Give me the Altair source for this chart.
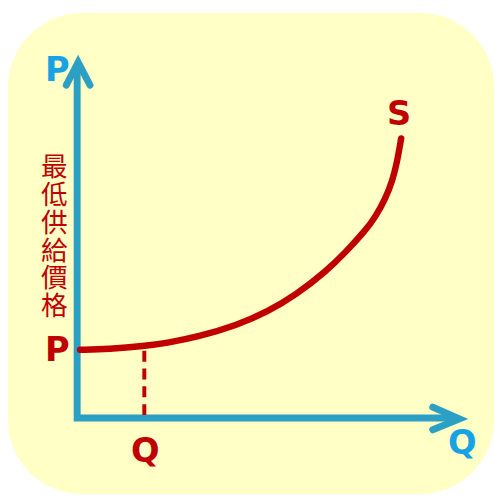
import altair as alt
import pandas as pd

# ---- data (page-pixel coordinates) ----
# supply curve S
curve_x = [81, 110, 146, 170, 200, 240, 270, 300, 330, 350, 370, 380, 390, 397, 402, 406]
curve_y = [351, 350.3, 347.3, 343.8, 338, 326, 313, 295, 271.6, 252, 230, 216.5, 198, 180.5, 160.5, 137]

# axes polyline (vertical axis down to origin, then horizontal axis)
axis_x = [78, 78, 462]
axis_y = [62, 420, 420]

# arrowheads (chevrons)
arrow_group = ["P", "P", "P", "Q", "Q", "Q"]
arrow_x = [67, 79, 91, 438, 465, 438]
arrow_y = [83, 60, 83, 409, 421, 432]

# dashed guide at the minimum quantity
guide_x = [146]
guide_y1 = [352]
guide_y2 = [418]

# labels
label_text = ["P", "Q", "S", "P", "Q"]
label_x = [58, 468, 404, 58, 147]
label_y = [69, 446, 113, 352, 455]
label_color = ["#17A2E4", "#17A2E4", "#C00000", "#C00000", "#C00000"]

vertical_label = ["最", "低", "供", "給", "價", "格"]
vertical_label_x = [55]
vertical_label_y = [167]

RED = "#C00000"
AXIS = "#2CA0C4"

xs = alt.Scale(domain=[8, 500], nice=False, zero=False)
ys = alt.Scale(domain=[10, 497], nice=False, zero=False, reverse=True)

curve_df = pd.DataFrame({"x": curve_x, "y": curve_y, "i": range(len(curve_x))})
axis_df = pd.DataFrame({"x": axis_x, "y": axis_y, "i": range(len(axis_x))})
arrow_df = pd.DataFrame({"g": arrow_group, "x": arrow_x, "y": arrow_y, "i": range(len(arrow_x))})
guide_df = pd.DataFrame({"x": guide_x, "y": guide_y1, "y2": guide_y2})
label_df = pd.DataFrame({"t": label_text, "x": label_x, "y": label_y, "c": label_color})
vlabel_df = pd.DataFrame({"t": ["\n".join(vertical_label)], "x": vertical_label_x, "y": vertical_label_y})

X = lambda f="x": alt.X(f"{f}:Q", scale=xs, axis=None)
Y = lambda f="y": alt.Y(f"{f}:Q", scale=ys, axis=None)

axis_line = alt.Chart(axis_df).mark_line(
    color=AXIS, strokeWidth=7, strokeCap="butt", strokeJoin="miter"
).encode(x=X(), y=Y(), order="i:Q")

arrows = alt.Chart(arrow_df).mark_line(
    color=AXIS, strokeWidth=7, strokeCap="round", strokeJoin="miter"
).encode(x=X(), y=Y(), detail="g:N", order="i:Q")

guide = alt.Chart(guide_df).mark_rule(
    color=RED, strokeWidth=4, strokeDash=[11, 7]
).encode(x=X(), y=Y(), y2="y2:Q")

curve = alt.Chart(curve_df).mark_line(
    color=RED, strokeWidth=6.5, strokeCap="round", interpolate="basis"
).encode(x=X(), y=Y(), order="i:Q")

labels = alt.Chart(label_df).mark_text(
    font="DejaVu Sans", fontSize=34, fontWeight="bold", align="center", baseline="middle"
).encode(x=X(), y=Y(), text="t:N", color=alt.Color("c:N", scale=None))

vlabel = alt.Chart(vlabel_df).mark_text(
    font="Noto Sans CJK TC", fontSize=27, lineHeight=28.2, lineBreak="\n",
    align="center", baseline="middle", color=RED
).encode(x=X(), y=Y(), text="t:N")

chart = alt.layer(axis_line, arrows, guide, curve, labels, vlabel).properties(
    width=492, height=487,
    padding={"left": 0, "top": 2, "right": 0, "bottom": 0},
    autosize=alt.AutoSizeParams(type="none"),
).configure_view(
    fill="#FFFFC6", stroke=None, cornerRadius=75
)

chart.save("out.html", embed_options={"renderer": "svg", "actions": False})
